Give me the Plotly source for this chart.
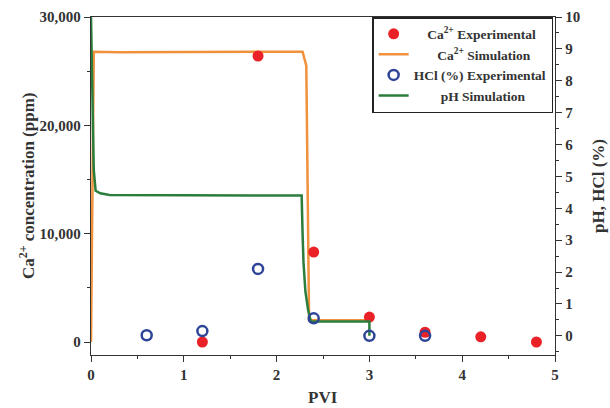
import plotly.graph_objects as go

# Experimental points
pvi_ca = [1.2, 1.8, 2.4, 3.0, 3.6, 4.2, 4.8]
ca_exp = [0, 26400, 8300, 2300, 900, 480, 0]

pvi_hcl = [0.6, 1.2, 1.8, 2.4, 3.0, 3.6]
hcl_exp = [0.02, 0.15, 2.1, 0.55, 0.0, 0.0]

# Simulation curves
pvi_ca_sim = [0.0, 0.03, 0.3, 2.28, 2.32, 2.35, 2.6, 3.0]
ca_sim = [0, 26800, 26750, 26800, 25500, 2000, 2000, 2000]

pvi_ph_sim = [0.0, 0.015, 0.03, 0.05, 0.1, 0.2, 2.27, 2.28, 2.29, 2.31, 2.34, 2.37, 3.0, 3.0]
ph_sim = [10.0, 7.5, 5.2, 4.55, 4.47, 4.42, 4.4, 3.2, 2.3, 1.4, 0.8, 0.45, 0.45, 0.0]

FONT = "Liberation Serif"
AX = "#333333"
NB = "\u00a0"

fig = go.Figure()

fig.add_trace(go.Scatter(
    x=pvi_ca_sim, y=ca_sim, mode="lines", name=NB * 7 + "Ca<sup>2+</sup> Simulation",
    line=dict(color="#f0913c", width=2.5), legendrank=2, yaxis="y"))
fig.add_trace(go.Scatter(
    x=pvi_ph_sim, y=ph_sim, mode="lines", name=NB * 8 + "pH Simulation",
    line=dict(color="#2b7d3c", width=2.5), legendrank=4, yaxis="y2"))
fig.add_trace(go.Scatter(
    x=pvi_ca, y=ca_exp, mode="markers", name=NB * 4 + "Ca<sup>2+</sup> Experimental",
    marker=dict(color="#ea2227", size=11, line=dict(width=0)), legendrank=1, yaxis="y"))
fig.add_trace(go.Scatter(
    x=pvi_hcl, y=hcl_exp, mode="markers", name="HCl (%) Experimental",
    marker=dict(symbol="circle-open", color="#2e4597", size=10, line=dict(width=2.5)),
    legendrank=3, yaxis="y2"))

tickfont = dict(family=FONT, size=15, color="#333333", weight="bold")
titlefont = dict(family=FONT, size=17, color="#333333", weight="bold")

axis_common = dict(
    showline=True, linecolor=AX, linewidth=1.3,
    ticks="outside", ticklen=6, tickcolor=AX, tickwidth=1.3,
    showgrid=False, zeroline=False, automargin=False,
    tickfont=tickfont,
)

fig.update_layout(
    width=610, height=408,
    margin=dict(l=91, r=55, t=17, b=53),
    paper_bgcolor="white", plot_bgcolor="white",
    font=dict(family=FONT, color="#333333"),
    showlegend=True,
    legend=dict(
        x=0.996, y=1, xanchor="right", yanchor="top",
        bgcolor="white", bordercolor="#222222", borderwidth=1.5,
        font=dict(family=FONT, size=13.5, color="#333333", weight="bold"),
        tracegroupgap=0, itemwidth=30,
    ),
    xaxis=dict(
        axis_common, range=[0, 5], tickvals=[0, 1, 2, 3, 4, 5], mirror=True,
        minor=dict(ticks="outside", ticklen=3, dtick=0.5, tickcolor=AX, tickwidth=1.3),
    ),
    yaxis=dict(
        axis_common, range=[-1200, 30000], tickvals=[0, 10000, 20000, 30000],
        tickformat=",d",
        minor=dict(ticks="outside", ticklen=3, tickvals=[5000, 15000, 25000], tickcolor=AX, tickwidth=1.3),
    ),
    yaxis2=dict(
        axis_common, overlaying="y", side="right",
        range=[-0.6, 10], tickvals=list(range(0, 11)),
        minor=dict(ticks="outside", ticklen=3, dtick=0.5, tickcolor=AX, tickwidth=1.3),
    ),
    annotations=[
        dict(text="PVI", xref="paper", yref="paper", x=0.5, y=0, yshift=-42,
             xanchor="center", yanchor="middle", showarrow=False, font=titlefont),
        dict(text="Ca<sup>2+</sup> concentration (ppm)", xref="paper", yref="paper",
             x=0, y=0.5, xshift=-64, xanchor="center", yanchor="middle",
             textangle=-90, showarrow=False, font=titlefont),
        dict(text="pH, HCl (%)", xref="paper", yref="paper",
             x=1, y=0.5, xshift=43, xanchor="center", yanchor="middle",
             textangle=-90, showarrow=False, font=titlefont),
    ],
)

fig.write_html("out.html")
